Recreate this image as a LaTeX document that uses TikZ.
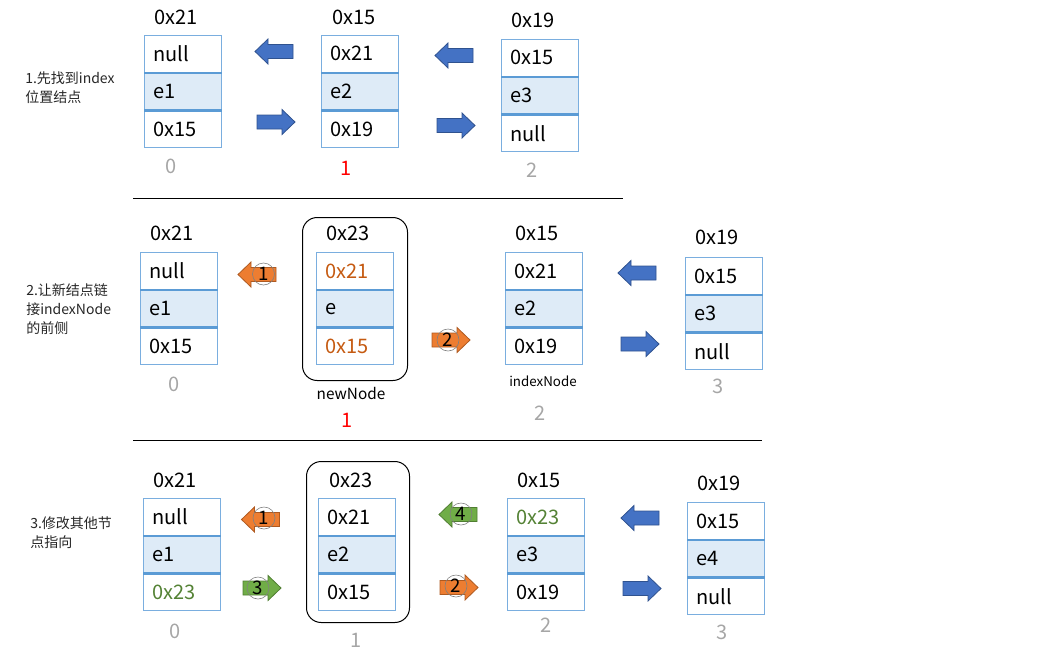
\documentclass[tikz,border=0pt]{standalone}
\usepackage{fontspec}
\setmainfont{Noto Sans CJK SC}
\definecolor{boxblue}{HTML}{5B9BD5}
\definecolor{boxedge}{HTML}{7AAEDF}
\definecolor{cellfill}{HTML}{DEEBF7}
\definecolor{arrblue}{HTML}{4472C4}
\definecolor{arrblueb}{HTML}{2F528F}
\definecolor{arrorange}{HTML}{ED7D31}
\definecolor{arrorangeb}{HTML}{AE5A21}
\definecolor{arrgreen}{HTML}{70AD47}
\definecolor{arrgreenb}{HTML}{507E32}
\definecolor{idxgray}{HTML}{A6A6A6}
\definecolor{txtorange}{HTML}{C55A11}
\definecolor{txtgreen}{HTML}{548235}
\definecolor{sidetxt}{HTML}{262626}
\tikzset{
  cell/.style={draw=boxedge, line width=0.8pt, minimum height=27.5pt, text width=44.25pt,
    inner xsep=6.75pt, inner ysep=0pt, align=left, font=\fontsize{15}{18}\selectfont},
  sepline/.style={draw=boxblue, line width=1.6pt},
  lbl/.style={inner sep=0pt, font=\fontsize{15}{18}\selectfont},
  idx/.style={inner sep=0pt, text=idxgray, font=\fontsize{15}{18}\selectfont},
  idxred/.style={inner sep=0pt, text=red, font=\fontsize{15}{18}\selectfont},
  side/.style={inner sep=0pt, align=left, text=sidetxt, font=\fontsize{10.5}{14.2}\selectfont},
  cnum/.style={circle, draw=gray, line width=0.45pt, inner sep=0pt, minimum size=16.5pt,
    font=\fontsize{14}{16}\selectfont},
  ablue/.style={fill=arrblue, draw=arrblueb, line width=0.6pt},
  aorange/.style={fill=arrorange, draw=arrorangeb, line width=0.6pt},
  agreen/.style={fill=arrgreen, draw=arrgreenb, line width=0.6pt},
  wrap/.style={draw=black, line width=0.75pt, rounded corners=11pt},
  rule/.style={draw=black, line width=0.75pt}
}
\newcommand\listnode[6]{%
  \node[cell,anchor=north west] (#1a) at (#2,#3) {#4};
  \node[cell,fill=cellfill,anchor=north] (#1b) at (#1a.south) {#5};
  \node[cell,anchor=north] (#1c) at (#1b.south) {#6};
  \draw[sepline] (#1a.south west) -- (#1a.south east);
  \draw[sepline] (#1b.south west) -- (#1b.south east);}
\newcommand\blockarr[4]{%
  \draw[#4, shift={(#1,#2)}, xscale=#3] (-19,-7) -- (6,-7) -- (6,-12.5) -- (19,0) -- (6,12.5) -- (6,7) -- (-19,7) -- cycle;}
\begin{document}
\begin{tikzpicture}[x=0.75pt,y=-0.75pt]
\useasboundingbox (0,0) rectangle (1052,657);

% ---------- section 1 ----------
\node[side, anchor=west] (s1) at (25,87.5) {1.先找到index\\位置结点};
\listnode{A1}{144}{35}{null}{e1}{0x15}
\listnode{B1}{321}{35}{0x21}{e2}{0x19}
\listnode{C1}{501}{39}{0x15}{e3}{null}
\node[lbl, anchor=west] (A1t) at (154,17) {0x21};
\node[lbl, anchor=west] (B1t) at (332,17) {0x15};
\node[lbl, anchor=west] (C1t) at (511,20) {0x19};
\node[idx] (A1i) at (171,166) {0};
\node[idxred] (B1i) at (346,168) {1};
\node[idx] (C1i) at (532,170) {2};
\blockarr{274}{51.5}{-1}{ablue}
\blockarr{276}{122}{1}{ablue}
\blockarr{454}{55.5}{-1}{ablue}
\blockarr{456}{125.5}{1}{ablue}
\coordinate (r1a) at (133,198);
\coordinate (r1b) at (623,198);
\draw[rule] (r1a) -- (r1b);

% ---------- section 2 ----------
\node[side, anchor=west] (s2) at (26,309) {2.让新结点链\\接indexNode\\的前侧};
\node[wrap, minimum width=78.75pt, minimum height=122.25pt, anchor=north west] (W2) at (302,217) {};
\listnode{A2}{140}{252}{null}{e1}{0x15}
\listnode{N2}{316}{252}{\textcolor{txtorange}{0x21}}{e}{\textcolor{txtorange}{0x15}}
\listnode{B2}{505}{252}{0x21}{e2}{0x19}
\listnode{C2}{685}{257}{0x15}{e3}{null}
\node[lbl, anchor=west] (A2t) at (150,233) {0x21};
\node[lbl, anchor=west] (N2t) at (326,233) {0x23};
\node[lbl, anchor=west] (B2t) at (515,233) {0x15};
\node[lbl, anchor=west] (C2t) at (695,237) {0x19};
\node[idx] (A2i) at (174,384) {0};
\node[inner sep=0pt, font=\fontsize{11.5}{14}\selectfont] (N2n) at (351,393) {newNode};
\node[idxred] (N2i) at (347,420) {1};
\node[inner sep=0pt, font=\fontsize{10}{12}\selectfont] (B2n) at (543,381) {indexNode};
\node[idx] (B2i) at (540,413) {2};
\node[idx] (C2i) at (718,386) {3};
\blockarr{257}{274.5}{-1}{aorange}
\node[cnum] (c21) at (263.5,274) {1};
\blockarr{451}{340}{1}{aorange}
\node[cnum] (c22) at (448,340) {2};
\blockarr{637}{273}{-1}{ablue}
\blockarr{640}{344}{1}{ablue}
\coordinate (r2a) at (133,440);
\coordinate (r2b) at (762,440);
\draw[rule] (r2a) -- (r2b);

% ---------- section 3 ----------
\node[side, anchor=west] (s3) at (30,533) {3.修改其他节\\点指向};
\node[wrap, minimum width=77.25pt, minimum height=120.75pt, anchor=north west] (W3) at (306,461) {};
\listnode{A3}{143}{498}{null}{e1}{\textcolor{txtgreen}{0x23}}
\listnode{N3}{318}{498}{0x21}{e2}{0x15}
\listnode{B3}{507}{498}{\textcolor{txtgreen}{0x23}}{e3}{0x19}
\listnode{C3}{687}{502}{0x15}{e4}{null}
\node[lbl, anchor=west] (A3t) at (153,480) {0x21};
\node[lbl, anchor=west] (N3t) at (329,480) {0x23};
\node[lbl, anchor=west] (B3t) at (517,480) {0x15};
\node[lbl, anchor=west] (C3t) at (697,483) {0x19};
\node[idx] (A3i) at (175,631) {0};
\node[idx] (N3i) at (356,640) {1};
\node[idx] (B3i) at (546,625) {2};
\node[idx] (C3i) at (722,632) {3};
\blockarr{260.5}{519.5}{-1}{aorange}
\node[cnum] (c31) at (264,518) {1};
\blockarr{262}{588}{1}{agreen}
\node[cnum] (c33) at (258,588) {3};
\blockarr{458}{514.5}{-1}{agreen}
\node[cnum] (c34) at (461,514) {4};
\blockarr{459}{587.5}{1}{aorange}
\node[cnum] (c32) at (456,586) {2};
\blockarr{640}{518}{-1}{ablue}
\blockarr{642}{588.5}{1}{ablue}
\end{tikzpicture}
\end{document}
